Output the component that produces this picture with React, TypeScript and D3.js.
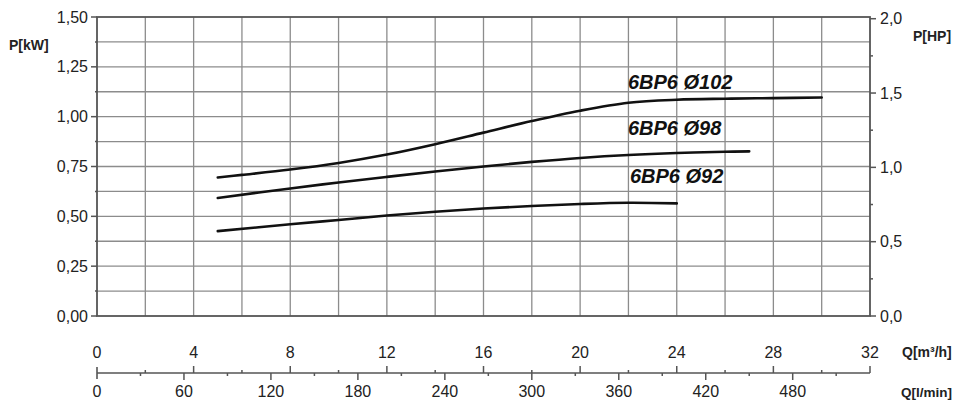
import React from 'react';
import * as d3 from 'd3';

// flow points (m³/h) and absorbed power (kW)
const q102 = [5, 6, 8, 10, 12, 14, 16, 18, 20, 22, 24, 26, 28, 30];
const p102 = [0.695, 0.708, 0.735, 0.768, 0.81, 0.862, 0.92, 0.978, 1.03, 1.07, 1.085, 1.09, 1.093, 1.096];
const q98 = [5, 8, 10, 12, 14, 16, 18, 20, 22, 24, 26, 27];
const p98 = [0.592, 0.64, 0.67, 0.698, 0.725, 0.75, 0.773, 0.793, 0.808, 0.818, 0.824, 0.826];
const q92 = [5, 8, 10, 12, 14, 16, 18, 20, 22, 24];
const p92 = [0.426, 0.46, 0.482, 0.504, 0.523, 0.539, 0.552, 0.562, 0.568, 0.565];

const curveNames = ['6BP6 Ø102', '6BP6 Ø98', '6BP6 Ø92'];
// label anchors in data units (Q, P)
const labelQ = [21.98, 21.98, 22.06];
const labelP = [1.139, 0.908, 0.667];

const kwTicks = [0, 0.25, 0.5, 0.75, 1.0, 1.25, 1.5];
const hpTicks = [0, 0.5, 1.0, 1.5, 2.0];
const m3hTicks = [0, 4, 8, 12, 16, 20, 24, 28, 32];
const lminTicks = [0, 60, 120, 180, 240, 300, 360, 420, 480];

const W = 958;
const H = 401;
const HP_KW = 0.7457;

export default function App() {
    const x = d3.scaleLinear().domain([0, 32]).range([97, 870]);
    const y = d3.scaleLinear().domain([0, 1.5]).range([316, 17]);
    const yHp = d3.scaleLinear().domain([0, 1.5 / HP_KW]).range([316, 17]);
    const xL = d3.scaleLinear().domain([0, 32 * 1000 / 60]).range([97, 870]);

    const comma = (f: string) => (v: number) => d3.format(f)(v).replace('.', ',');
    const fmtKw = comma('.2f');
    const fmtHp = comma('.1f');

    const line = d3
        .line<[number, number]>()
        .x((d) => x(d[0]))
        .y((d) => y(d[1]))
        .curve(d3.curveCatmullRom.alpha(0.5));

    const series = [
        d3.zip(q102, p102) as [number, number][],
        d3.zip(q98, p98) as [number, number][],
        d3.zip(q92, p92) as [number, number][],
    ];

    const vGrid = d3.range(2, 32, 2);
    const hGrid = d3.range(0.125, 1.5, 0.125);
    const axisY = 373;
    const font = 'Liberation Sans, Arial, sans-serif';

    return (
        <svg
            width={W}
            height={H}
            style={{ position: 'absolute', left: 0, top: 0, background: '#fff' }}
            fontFamily={font}
        >
            {/* grid */}
            {vGrid.map((v) => (
                <line key={'v' + v} x1={x(v)} x2={x(v)} y1={y(1.5)} y2={y(0)} stroke="#8c8c8c" strokeWidth={1.3} />
            ))}
            {hGrid.map((v) => (
                <line key={'h' + v} x1={x(0)} x2={x(32)} y1={y(v)} y2={y(v)} stroke="#8c8c8c" strokeWidth={1.3} />
            ))}
            <rect x={x(0)} y={y(1.5)} width={x(32) - x(0)} height={y(0) - y(1.5)} fill="none" stroke="#555" strokeWidth={1.8} />

            {/* left axis */}
            {d3.range(0, 1.5001, 0.125).map((v, i) => (
                <line key={'lt' + i} x1={x(0) - (i % 2 === 0 ? 6 : 2)} x2={x(0)} y1={y(v)} y2={y(v)} stroke="#555" strokeWidth={1.5} />
            ))}
            {kwTicks.map((v) => (
                <text key={'kl' + v} x={88} y={y(v)} dy="0.35em" textAnchor="end" fontSize={16} fill="#222">
                    {fmtKw(v)}
                </text>
            ))}
            <text x={9} y={50} fontSize={14} fontWeight={700} fill="#222">P[kW]</text>

            {/* right axis */}
            {d3.range(0, 2.0001, 0.25).map((v, i) => (
                <line key={'rt' + i} x1={x(32)} x2={x(32) + (i % 2 === 0 ? 6 : 3)} y1={yHp(v)} y2={yHp(v)} stroke="#555" strokeWidth={1.5} />
            ))}
            {hpTicks.map((v) => (
                <text key={'hl' + v} x={880} y={yHp(v)} dy="0.35em" fontSize={16} fill="#222">
                    {fmtHp(v)}
                </text>
            ))}
            <text x={913} y={41} fontSize={14} fontWeight={700} fill="#222">P[HP]</text>

            {/* curves */}
            {series.map((s, i) => (
                <path key={'c' + i} d={line(s) ?? ''} fill="none" stroke="#111" strokeWidth={2.6} strokeLinecap="round" />
            ))}
            {curveNames.map((n, i) => (
                <text
                    key={n}
                    x={x(labelQ[i])}
                    y={y(labelP[i])}
                    fontSize={20}
                    fontWeight={700}
                    fontStyle="italic"
                    fill="#111"
                >
                    {n}
                </text>
            ))}

            {/* bottom double axis */}
            <line x1={x(0)} x2={x(32)} y1={axisY} y2={axisY} stroke="#555" strokeWidth={1.6} />
            <line x1={x(0)} x2={x(0)} y1={axisY - 6} y2={axisY + 6} stroke="#555" strokeWidth={1.6} />
            {d3.range(2, 32.001, 2).map((v, i) => (
                <line key={'mt' + v} x1={x(v)} x2={x(v)} y1={axisY - (i % 2 === 1 ? 7 : 3)} y2={axisY} stroke="#555" strokeWidth={1.5} />
            ))}
            {d3.range(30, 510.001, 30).map((v, i) => (
                <line key={'lt2' + v} x1={xL(v)} x2={xL(v)} y1={axisY} y2={axisY + (i % 2 === 1 ? 7 : 3)} stroke="#555" strokeWidth={1.5} />
            ))}
            {m3hTicks.map((v) => (
                <text key={'mx' + v} x={x(v)} y={352} dy="0.35em" textAnchor="middle" fontSize={16} fill="#222">
                    {v}
                </text>
            ))}
            {lminTicks.map((v) => (
                <text key={'lx' + v} x={xL(v)} y={391} dy="0.35em" textAnchor="middle" fontSize={16} fill="#222">
                    {v}
                </text>
            ))}
            <text x={902} y={352} dy="0.35em" fontSize={14} fontWeight={700} fill="#222">Q[m³/h]</text>
            <text x={901} y={392} dy="0.35em" fontSize={13.5} fontWeight={700} fill="#222">Q[l/min]</text>
        </svg>
    );
}
